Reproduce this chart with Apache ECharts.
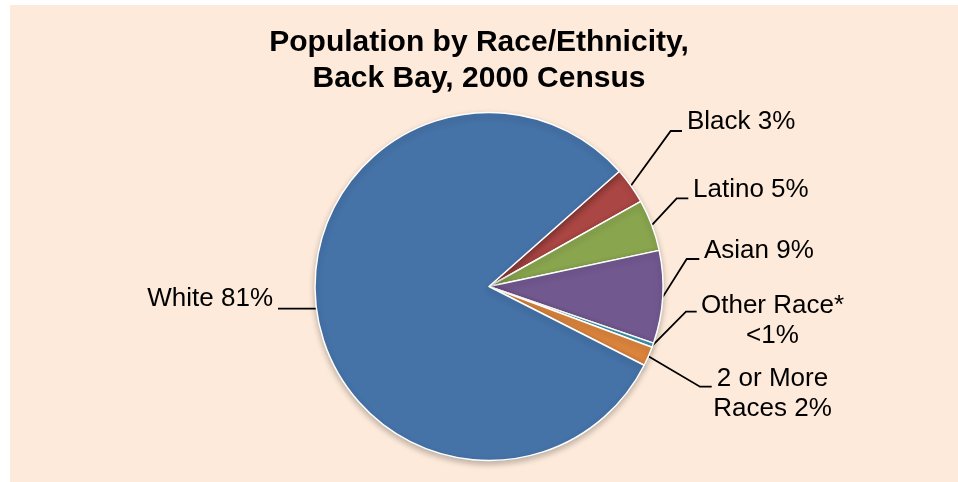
<!DOCTYPE html>
<html>
<head>
<meta charset="utf-8">
<script src="https://cdn.jsdelivr.net/npm/echarts@6/dist/echarts.min.js"></script>
<style>
html, body { margin: 0; padding: 0; background: #FDEADA; overflow: hidden; }
#main { width: 958px; height: 482px; background: #FDEADA; box-shadow: inset 10px 5px 0 #ffffff; }
</style>
</head>
<body>
<div id="main"></div>
<script>
// ---- data ----
const categories = ['Black', 'Latino', 'Asian', 'Other Race*', '2 or More Races', 'White'];
const values = [3.4, 4.8, 8.6, 0.4, 1.8, 81.0];
const labelTexts = ['Black 3%', 'Latino 5%', 'Asian 9%', 'Other Race*\n<1%', '2 or More\nRaces 2%', 'White 81%'];
const colors = ['#AA4643', '#89A54E', '#71588F', '#4198AF', '#DB843D', '#4572A7'];

// ---- layout (page px) ----
const CX = 489, CY = 286.5, R = 174, START = 41.5;
const labelPlacement = [
  { x: 687,   y: 122,   align: 'left',   bend: [670.7, 131],   end: [682, 131] },
  { x: 693,   y: 189.7, align: 'left',   bend: [676.7, 198.3], end: [688.3, 198.3] },
  { x: 704,   y: 251,   align: 'left',   bend: [686.7, 259],   end: [699.3, 259] },
  { x: 772.5, y: 320.5, align: 'center', bend: [686, 311.7],   end: [696.7, 311.7] },
  { x: 772.5, y: 394,   align: 'center', bend: [700, 386.7],   end: [711.7, 386.7] },
  { x: 273,   y: 299,   align: 'right',  bend: null,           endX: 278 }
];

const total = values.reduce((a, b) => a + b, 0);
function anchorPoint(i) {
  let cum = 0;
  for (let k = 0; k < i; k++) cum += values[k];
  cum += values[i] / 2;
  const ang = (START - cum / total * 360) * Math.PI / 180;
  return [CX + R * Math.cos(ang), CY - R * Math.sin(ang)];
}

const chart = echarts.init(document.getElementById('main'), null, { renderer: 'canvas' });
chart.setOption({
  animation: false,
  color: colors,
  title: {
    text: 'Population by Race/Ethnicity,\nBack Bay, 2000 Census',
    left: 'center',
    top: 25,
    padding: [0, 0, 0, 18],
    textStyle: {
      fontFamily: 'Liberation Sans, Arial, sans-serif',
      fontSize: 30,
      fontWeight: 'bold',
      lineHeight: 36,
      color: '#000000'
    }
  },
  series: [{
    type: 'pie',
    center: [CX, CY],
    radius: R,
    startAngle: START,
    clockwise: true,
    avoidLabelOverlap: false,
    data: categories.map((c, i) => ({ name: c, value: values[i] })),
    itemStyle: {
      borderColor: '#ffffff',
      borderWidth: 1.5,
      shadowBlur: 6,
      shadowOffsetY: 3,
      shadowColor: 'rgba(0,0,0,0.25)'
    },
    label: {
      show: true,
      position: 'outside',
      formatter: p => labelTexts[p.dataIndex],
      fontFamily: 'Liberation Sans, Arial, sans-serif',
      fontSize: 26,
      lineHeight: 30,
      color: '#000000'
    },
    labelLine: {
      show: true,
      lineStyle: { color: '#000000', width: 1.8 }
    },
    labelLayout: function (params) {
      const i = params.dataIndex;
      const lp = labelPlacement[i];
      const a = (params.labelLinePoints && params.labelLinePoints[0]) || anchorPoint(i);
      let pts;
      if (lp.bend) {
        pts = [a, lp.bend, lp.end];
      } else {
        pts = [a, [(a[0] + lp.endX) / 2, a[1]], [lp.endX, a[1]]];
      }
      return {
        x: lp.x,
        y: lp.y,
        align: lp.align,
        verticalAlign: 'middle',
        labelLinePoints: pts
      };
    },
    emphasis: { disabled: true }
  }]
});
</script>
</body>
</html>
